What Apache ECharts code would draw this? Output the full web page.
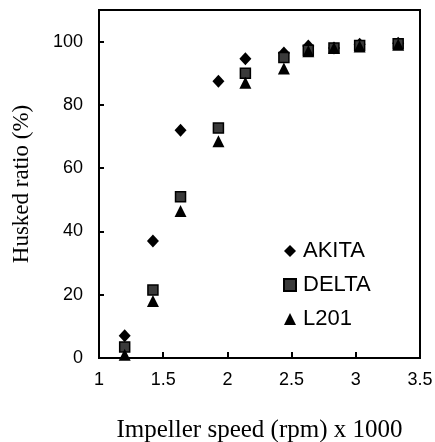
<!DOCTYPE html>
<html>
<head>
<meta charset="utf-8">
<script src="https://cdn.jsdelivr.net/npm/echarts@6/dist/echarts.min.js"></script>
<style>
  html, body { margin: 0; padding: 0; background: #fff; }
  #main { width: 435px; height: 442px; }
</style>
</head>
<body>
<div id="main"></div>
<script>
// impeller speed (rpm x 1000)
var speeds = [1.2, 1.42, 1.635, 1.93, 2.14, 2.44, 2.63, 2.83, 3.03, 3.33];
// husked ratio (%)
var akita = [7, 37, 72, 87.5, 94.6, 96.4, 98.6, 98, 99.2, 99.5];
var delta = [3.5, 21.5, 51, 72.7, 90, 95, 97.3, 98, 98.8, 99.3];
var l201 = [1, 18, 46.5, 68.5, 87, 91.5, 97, 98, 98.5, 99];
var seriesNames = ['AKITA', 'DELTA', 'L201'];
var xTicks = [1, 1.5, 2, 2.5, 3, 3.5];

function pairs(ys) {
  return speeds.map(function (x, i) { return [x, ys[i]]; });
}

var myChart = echarts.init(document.getElementById('main'));
var labelFont = { color: '#000', fontFamily: 'Liberation Sans', fontSize: 18 };

var option = {
  animation: false,
  grid: {
    left: 99, right: 15, top: 10, bottom: 84,
    outerBoundsMode: 'none',
    containLabel: false,
    show: true, borderColor: '#000', borderWidth: 2, backgroundColor: 'transparent'
  },
  legend: {
    orient: 'vertical',
    left: 278, top: 235,
    itemGap: 12,
    itemWidth: 12, itemHeight: 12,
    textStyle: { color: '#000', fontFamily: 'Liberation Sans', fontSize: 22, padding: [0, 0, 0, 2] },
    data: [
      { name: seriesNames[0], icon: 'diamond' },
      { name: seriesNames[1], icon: 'rect' },
      { name: seriesNames[2], icon: 'triangle' }
    ]
  },
  xAxis: {
    type: 'value',
    min: 1, max: 3.5, interval: 0.5,
    name: 'Impeller speed (rpm) x 1000',
    nameLocation: 'middle',
    nameGap: 60,
    nameTextStyle: { color: '#000', fontFamily: 'Liberation Serif', fontSize: 25 },
    axisLine: { lineStyle: { color: '#000', width: 2 } },
    axisTick: { inside: true, length: 6, lineStyle: { color: '#000', width: 2 } },
    axisLabel: Object.assign({ margin: 13, formatter: function (v) { return xTicks.indexOf(v) >= 0 ? String(v) : ''; } }, labelFont),
    splitLine: { show: false }
  },
  yAxis: {
    type: 'value',
    min: 0, max: 110, interval: 20,
    name: 'Husked ratio (%)',
    nameLocation: 'middle',
    nameGap: 66,
    nameTextStyle: { color: '#000', fontFamily: 'Liberation Serif', fontSize: 23 },
    axisLine: { lineStyle: { color: '#000', width: 2 } },
    axisTick: { inside: true, length: 5, lineStyle: { color: '#000', width: 2 } },
    axisLabel: Object.assign({ margin: 16, showMaxLabel: false }, labelFont),
    splitLine: { show: false }
  },
  series: [
    {
      name: seriesNames[0], type: 'scatter', symbol: 'diamond', symbolSize: [12, 13],
      itemStyle: { color: '#000', opacity: 1 }, z: 3,
      data: pairs(akita)
    },
    {
      name: seriesNames[1], type: 'scatter', symbol: 'rect', symbolSize: 10,
      itemStyle: { color: '#3a3a3a', borderColor: '#000', borderWidth: 1.5, opacity: 1 }, z: 4,
      data: pairs(delta)
    },
    {
      name: seriesNames[2], type: 'scatter', symbol: 'triangle', symbolSize: 12,
      itemStyle: { color: '#000', opacity: 1 }, z: 5,
      data: pairs(l201)
    }
  ]
};

myChart.setOption(option);
</script>
</body>
</html>
